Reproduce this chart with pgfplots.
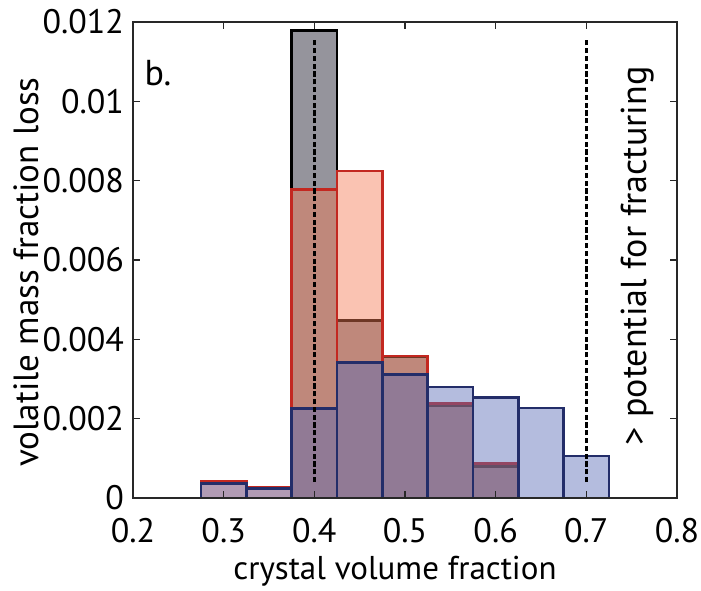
\documentclass[border=0pt]{standalone}
\usepackage{fontspec}
\setmainfont{PT Sans}
\usepackage{pgfplots}
\pgfplotsset{compat=1.18}
\definecolor{redfill}{RGB}{244,122,84}
\definecolor{rededge}{RGB}{195,40,32}
\definecolor{bluefill}{RGB}{89,107,182}
\definecolor{blueedge}{RGB}{35,45,105}
\definecolor{grayfill}{RGB}{20,18,35}
\definecolor{axcol}{RGB}{40,40,40}
\begin{document}
\begin{tikzpicture}
\begin{axis}[
  scale only axis, width=272pt, height=238pt,
  xmin=0.2, xmax=0.8, ymin=0, ymax=0.012,
  xtick={0.2,0.3,0.4,0.5,0.6,0.7,0.8},
  xticklabels={0.2,0.3,0.4,0.5,0.6,0.7,0.8},
  ytick={0,0.002,0.004,0.006,0.008,0.01,0.012},
  yticklabels={0,0.002,0.004,0.006,0.008,0.01,0.012},
  scaled y ticks=false, scaled x ticks=false,
  tick label style={font=\fontsize{17}{20}\selectfont, text=black},
  xticklabel style={yshift=-6.5pt},
  yticklabel style={xshift=-1pt},
  xlabel style={font=\fontsize{16.5}{19}\selectfont, yshift=0pt, xshift=-5pt},
  ylabel style={font=\fontsize{17.5}{20}\selectfont, yshift=-5pt, xshift=-6pt},
  xlabel={crystal volume fraction},
  ylabel={volatile mass fraction loss},
  major tick length=3.5pt,
  tick style={axcol, line width=0.7pt},
  axis line style={axcol, line width=0.8pt},
  axis on top,
]
\addplot[ybar interval, fill=grayfill, fill opacity=0.45, draw=black, line width=1.3pt]
  coordinates {(0.375,0.01178) (0.425,0.00448) (0.475,0.00355) (0.525,0.00232) (0.575,0.00079) (0.625,0)};
\addplot[ybar interval, fill=redfill, fill opacity=0.45, draw=rededge, line width=1.3pt]
  coordinates {(0.275,0.00041) (0.325,0.00027) (0.375,0.00778) (0.425,0.00824) (0.475,0.00358) (0.525,0.00238) (0.575,0.00087) (0.625,0) (0.675,0) (0.725,0)};
\addplot[ybar interval, fill=bluefill, fill opacity=0.45, draw=blueedge, line width=1.4pt]
  coordinates {(0.175,0) (0.225,0) (0.275,0.00037) (0.325,0.00023) (0.375,0.00225) (0.425,0.00342) (0.475,0.00312) (0.525,0.0028) (0.575,0.00253) (0.625,0.00227) (0.675,0.00106) (0.725,0) (0.775,0) (0.825,0)};
\addplot[black, line width=1.8pt, dash pattern=on 2.6pt off 1.3pt] coordinates {(0.4,0.0004) (0.4,0.0116)};
\addplot[black, line width=1.8pt, dash pattern=on 2.6pt off 1.3pt] coordinates {(0.7,0.0004) (0.7,0.0116)};
\node[font=\fontsize{18}{21}\selectfont] at (axis cs:0.2275,0.0107) {b.};
\node[font=\fontsize{18}{21}\selectfont, rotate=90] at (axis cs:0.756,0.0061) {> potential for fracturing};
\end{axis}
\pgfresetboundingbox
\path ([shift={(-66.5pt,-46pt)}]current axis.south west) rectangle ++(350.5pt,295pt);
\end{tikzpicture}
\end{document}
